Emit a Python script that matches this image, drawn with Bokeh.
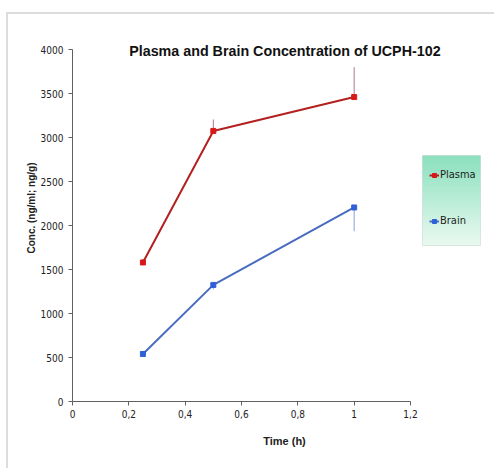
from bokeh.plotting import figure
from bokeh.models import (FixedTicker, Legend, LegendItem, Label, BoxAnnotation)
from bokeh.embed import file_html
from bokeh.resources import INLINE

# ---- data ----
time_h = [0.25, 0.5, 1.0]
plasma = [1580, 3075, 3460]
plasma_err = [40, 130, 340]
brain = [540, 1325, 2205]
brain_err = [25, 50, 270]

x_ticks = [0, 0.2, 0.4, 0.6, 0.8, 1.0, 1.2]
x_tick_labels = ["0", "0,2", "0,4", "0,6", "0,8", "1", "1,2"]
y_ticks = [0, 500, 1000, 1500, 2000, 2500, 3000, 3500, 4000]

title_text = "Plasma and Brain Concentration of UCPH-102"
x_label = "Time (h)"
y_label = "Conc. (ng/ml; ng/g)"

NARROW = "DejaVu Sans Condensed"
SANS = "Liberation Sans"

W, H = 488, 456
# frame spans to the right/top edges so annotations (title, legend) are not clipped;
# axes are bounded to the real data extent
p = figure(width=W, height=H, x_range=(0, 1.5053), y_range=(0, 4398),
           output_backend="svg", toolbar_location=None,
           min_border_left=64, min_border_right=0, min_border_top=0, min_border_bottom=69,
           styles={"border-left": "2px solid #dcdcdc", "border-top": "2px solid #dcdcdc",
                   "margin-left": "6px", "margin-top": "12px"})
p.outline_line_color = None
p.xgrid.visible = False
p.ygrid.visible = False
p.background_fill_color = "white"
p.border_fill_color = "white"

for ax in (p.xaxis[0], p.yaxis[0]):
    ax.axis_line_color = "#606060"
    ax.major_tick_line_color = "#606060"
    ax.minor_tick_line_color = None
    ax.major_tick_in = 0
    ax.major_tick_out = 4
    ax.major_label_text_font = NARROW
    ax.major_label_text_font_size = "10px"
    ax.major_label_text_color = "#222222"

p.xaxis.bounds = (0, 1.2)
p.yaxis.bounds = (0, 4000)

p.xaxis.ticker = FixedTicker(ticks=x_ticks)
p.xaxis.major_label_overrides = {t: l for t, l in zip(x_ticks, x_tick_labels)}
p.xaxis.major_label_standoff = 4
p.xaxis.axis_label = x_label
p.xaxis.axis_label_text_font = SANS
p.xaxis.axis_label_text_font_style = "bold"
p.xaxis.axis_label_text_font_size = "11px"
p.xaxis.axis_label_standoff = 14
p.xaxis.axis_label_text_color = "#222222"

p.yaxis.ticker = FixedTicker(ticks=y_ticks)
p.yaxis.major_label_standoff = 5
p.yaxis.axis_label = y_label
p.yaxis.axis_label_text_font = SANS
p.yaxis.axis_label_text_font_style = "bold"
p.yaxis.axis_label_text_font_size = "10px"
p.yaxis.axis_label_standoff = 1
p.yaxis.axis_label_text_color = "#222222"

# error bars
p.segment(x0=time_h, x1=time_h, y0=plasma,
          y1=[v + e for v, e in zip(plasma, plasma_err)],
          line_color="#b07888", line_width=1)
p.segment(x0=time_h, x1=time_h, y0=brain,
          y1=[v - e for v, e in zip(brain, brain_err)],
          line_color="#8aa0d8", line_width=1)

pl = p.line(time_h, plasma, line_color="#b3201f", line_width=2)
ps = p.scatter(time_h, plasma, marker="square", size=5, fill_color="#d81818", line_color="#d81818")
bl = p.line(time_h, brain, line_color="#4a6cc0", line_width=2)
bs = p.scatter(time_h, brain, marker="square", size=5, fill_color="#3060d8", line_color="#3060d8")

# title drawn inside the plot area
p.add_layout(Label(x=0.754, y=3985, text=title_text, text_align="center", text_baseline="middle",
                   text_font=SANS, text_font_style="bold", text_font_size="14.3px",
                   text_color="#111111"))

# legend box with vertical gradient
box_l, box_r, box_t, box_b = 412, 470, 139, 229
n = 30
c0 = (140, 224, 190)
c1 = (232, 249, 240)
for i in range(n):
    f = i / (n - 1)
    col = "#%02x%02x%02x" % tuple(int(round(a + (b - a) * f)) for a, b in zip(c0, c1))
    t = box_t + (box_b - box_t) * i / n
    bt = box_t + (box_b - box_t) * (i + 1) / n
    p.add_layout(BoxAnnotation(left=box_l, right=box_r, top=t, bottom=bt + 0.5,
                               left_units="canvas", right_units="canvas",
                               top_units="canvas", bottom_units="canvas",
                               fill_color=col, fill_alpha=1, line_color=None))
p.add_layout(BoxAnnotation(left=box_l, right=box_r, top=box_t, bottom=box_b,
                           left_units="canvas", right_units="canvas",
                           top_units="canvas", bottom_units="canvas",
                           fill_alpha=0, line_color="#a8b8b0", line_width=1))

legend = Legend(items=[LegendItem(label="Plasma", renderers=[pl, ps]),
                       LegendItem(label="Brain", renderers=[bl, bs])],
                location=(357, 174), padding=0, margin=0, spacing=33,
                glyph_width=10, glyph_height=12, label_height=12, label_standoff=1,
                label_text_font=NARROW, label_text_font_size="11px",
                label_text_color="#222222",
                background_fill_alpha=0, border_line_color=None)
p.add_layout(legend)

open("out.html", "w").write(file_html(p, INLINE))
